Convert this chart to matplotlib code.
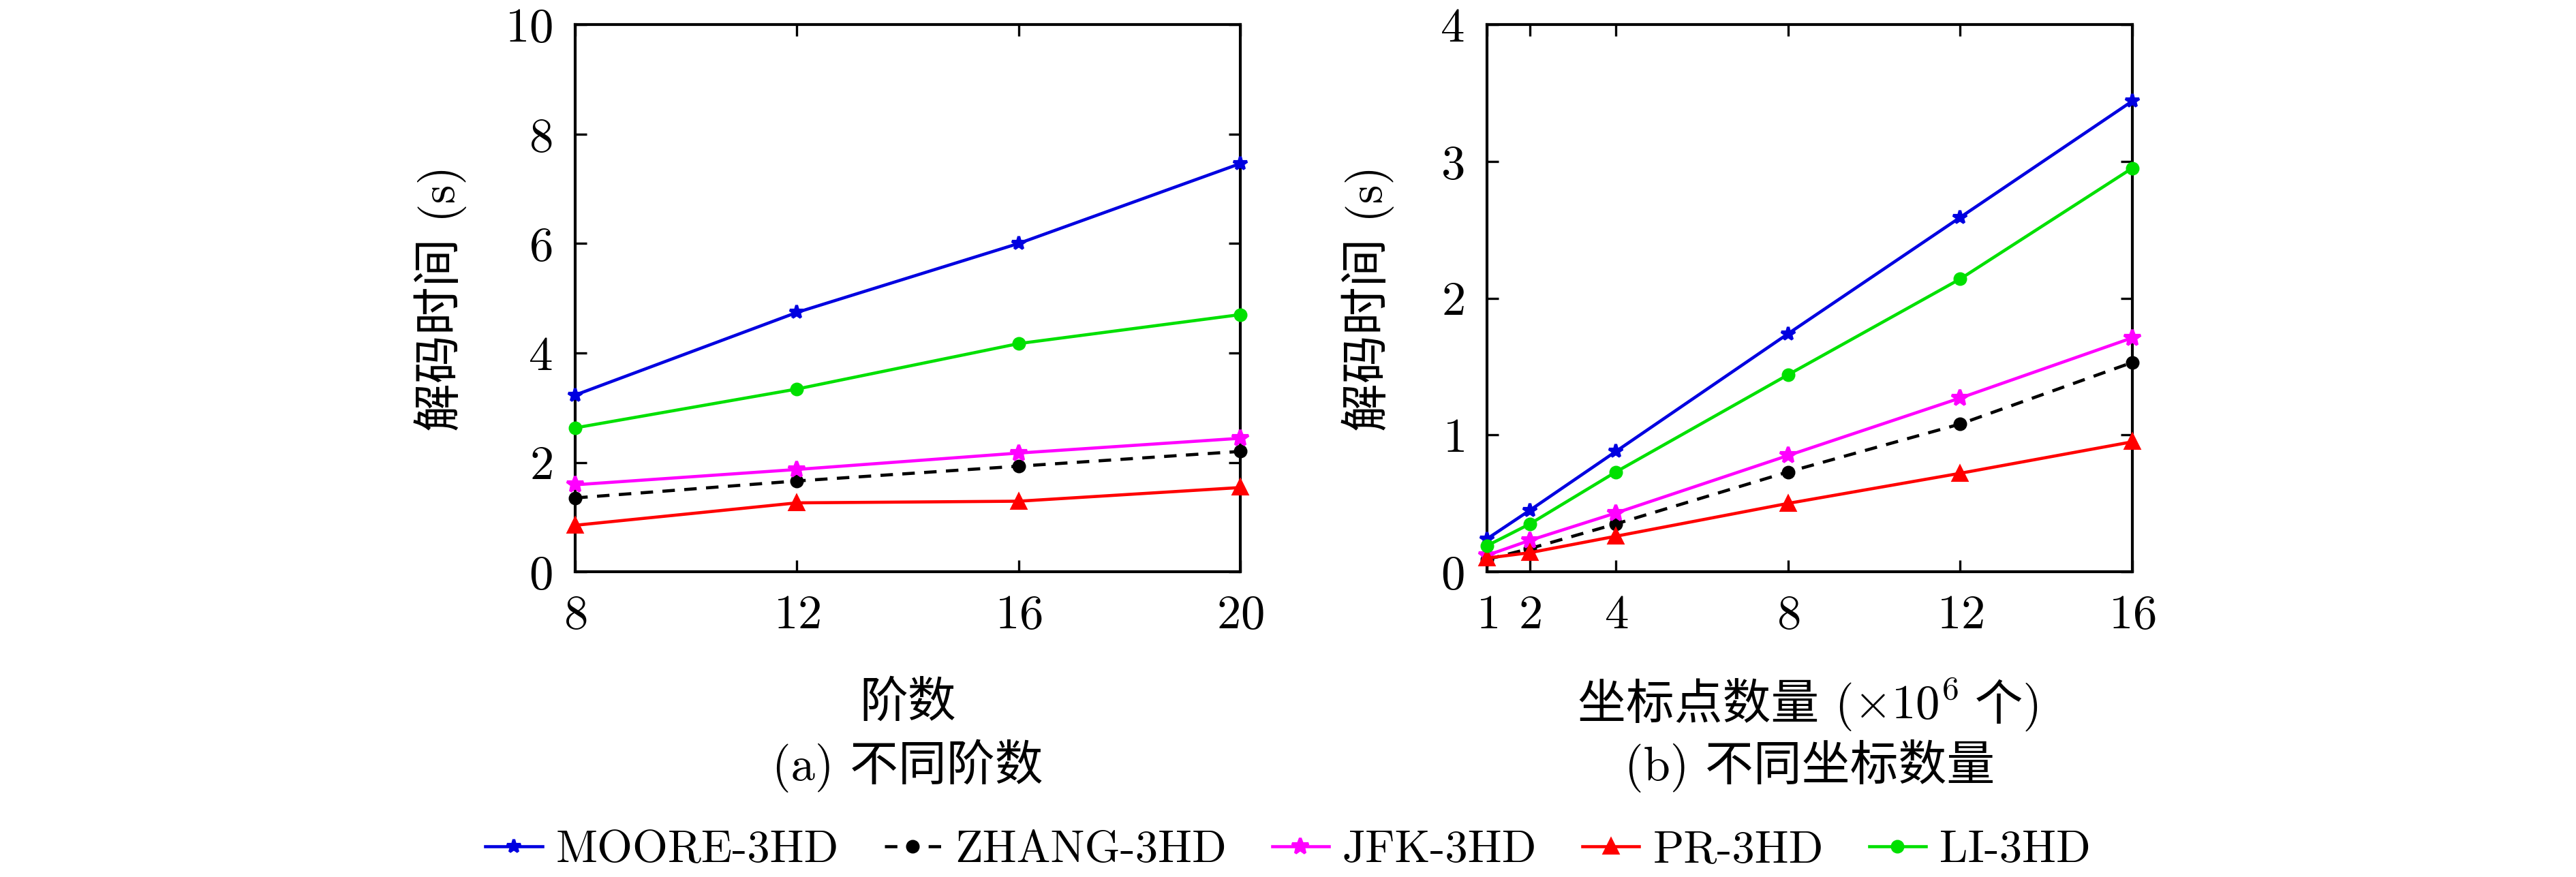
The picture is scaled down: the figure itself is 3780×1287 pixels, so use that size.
import matplotlib
matplotlib.use('Agg')
import matplotlib.pyplot as plt

plt.rcParams['font.family'] = ['cmr10', 'Noto Sans CJK SC', 'DejaVu Serif']
plt.rcParams['mathtext.fontset'] = 'cm'
plt.rcParams['axes.unicode_minus'] = False
plt.rcParams['axes.formatter.use_mathtext'] = True

# 左图: 不同阶数
order = [8, 12, 16, 20]
moore_a = [3.23, 4.74, 6.0, 7.46]
zhang_a = [1.35, 1.66, 1.93, 2.2]
jfk_a = [1.59, 1.87, 2.17, 2.44]
pr_a = [0.85, 1.26, 1.29, 1.54]
li_a = [2.63, 3.34, 4.17, 4.70]

# 右图: 不同坐标数量
npts = [1, 2, 4, 8, 12, 16]
moore_b = [0.24, 0.45, 0.88, 1.74, 2.59, 3.44]
zhang_b = [0.09, 0.17, 0.35, 0.73, 1.08, 1.53]
jfk_b = [0.12, 0.23, 0.43, 0.85, 1.27, 1.71]
pr_b = [0.10, 0.14, 0.26, 0.50, 0.72, 0.95]
li_b = [0.19, 0.35, 0.73, 1.44, 2.14, 2.95]

names = ['MOORE-3HD', 'ZHANG-3HD', 'JFK-3HD', 'PR-3HD', 'LI-3HD']
colors = ['#0000e0', 'black', '#ff00ff', '#ff0000', '#00e000']
markers = ['*', 'o', '*', '^', 'o']
styles = ['-', (0, (4, 3)), '-', '-', '-']
msizes = [5, 3.8, 6, 5, 3.8]

fs = 17
fig = plt.figure(figsize=(12.6, 4.29), dpi=300)
ax1 = fig.add_axes([0.2233, 0.348, 0.2582, 0.624])
ax2 = fig.add_axes([0.5772, 0.348, 0.2505, 0.624])

ser_a = [moore_a, zhang_a, jfk_a, pr_a, li_a]
ser_b = [moore_b, zhang_b, jfk_b, pr_b, li_b]

lines = []
for i in range(5):
    l, = ax1.plot(order, ser_a[i], color=colors[i], ls=styles[i], marker=markers[i],
                  ms=msizes[i], lw=1.1, label=names[i], clip_on=False, zorder=3)
    ax2.plot(npts, ser_b[i], color=colors[i], ls=styles[i], marker=markers[i],
             ms=msizes[i], lw=1.1, clip_on=False, zorder=3)
    lines.append(l)

ax1.set_xlim(8, 20)
ax1.set_ylim(0, 10)
ax1.set_xticks(order)
ax1.set_yticks([0, 2, 4, 6, 8, 10])
ax2.set_xlim(1, 16)
ax2.set_ylim(0, 4)
ax2.set_xticks(npts)
ax2.set_yticks([0, 1, 2, 3, 4])

for ax in (ax1, ax2):
    ax.tick_params(direction='in', top=True, right=True, length=4, width=0.8,
                   labelsize=fs, pad=8)
    for s in ax.spines.values():
        s.set_linewidth(1.0)

fig.text(0.171, 0.66, '解码时间 (s)', rotation=90, ha='center', va='center', fontsize=fs)
fig.text(0.531, 0.66, '解码时间 (s)', rotation=90, ha='center', va='center', fontsize=fs)
fig.text(0.3524, 0.198, '阶数', ha='center', va='center', fontsize=fs)
fig.text(0.3524, 0.127, '(a) 不同阶数', ha='center', va='center', fontsize=fs)
fig.text(0.7025, 0.127, '(b) 不同坐标数量', ha='center', va='center', fontsize=fs)

# 右图横轴标签: 中文与数学式分开写, 再整体居中
parts = ['坐标点数量 (', r'$\times10^6$', ' 个)']
ptexts = [fig.text(0, 0.18, p, ha='left', va='baseline', fontsize=fs) for p in parts]
renderer = fig.canvas.get_renderer()
widths = [t.get_window_extent(renderer).width / fig.bbox.width for t in ptexts]
x = 0.7025 - sum(widths) / 2
for t, w in zip(ptexts, widths):
    t.set_x(x)
    x += w

fig.legend(handles=lines, loc='center', bbox_to_anchor=(0.5, 0.03), ncol=5,
           frameon=False, fontsize=16, handlelength=1.25, handletextpad=0.3,
           columnspacing=1.0)

fig.savefig('out.png', dpi=300, facecolor='white')
